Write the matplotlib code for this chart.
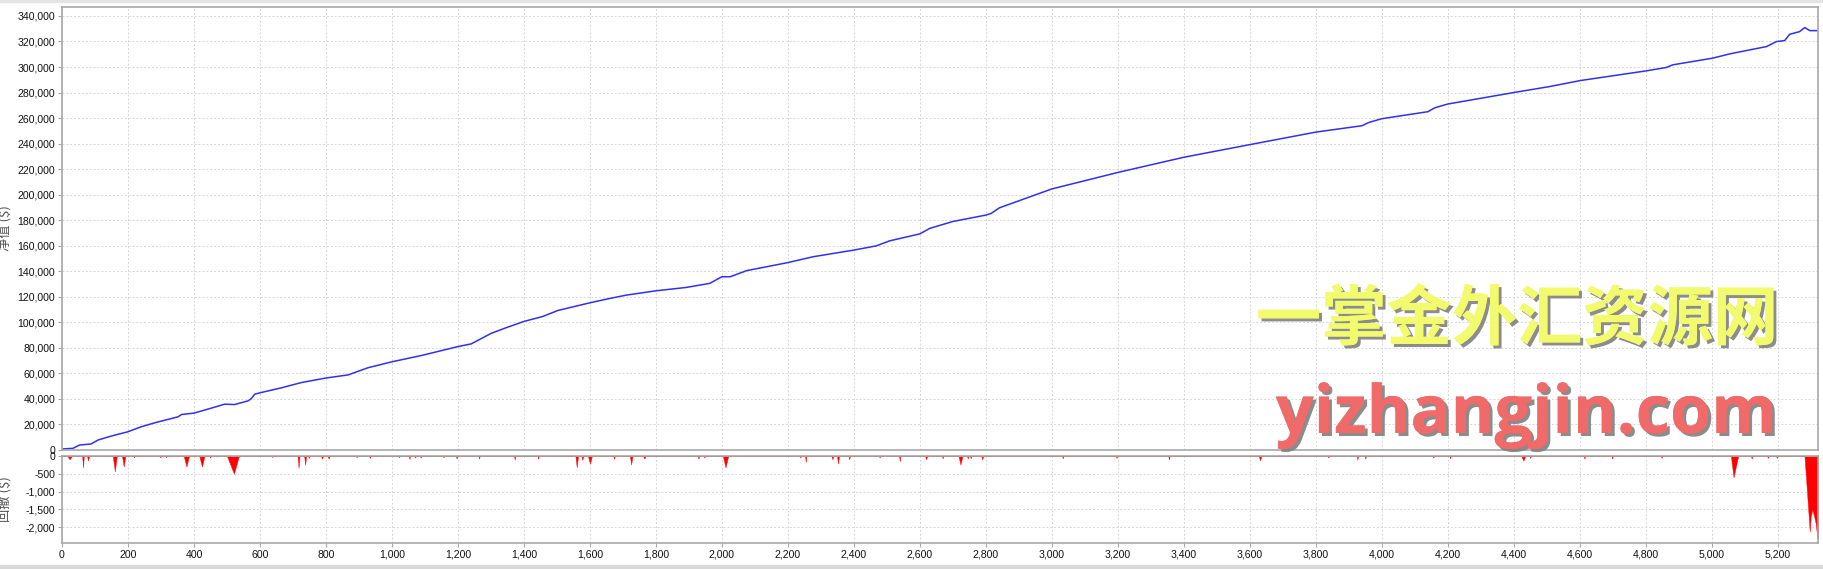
import numpy as np
import matplotlib
matplotlib.use('Agg')
import matplotlib.pyplot as plt
from matplotlib.ticker import FuncFormatter, MultipleLocator
from matplotlib.patches import Rectangle
import matplotlib.patheffects as pe

plt.rcParams['font.family'] = ['Liberation Sans', 'Noto Sans CJK SC', 'DejaVu Sans']

# %% datos leidos del grafico
# curva de equidad (numero de operacion, valor en $)
eq_x = [0, 33, 53, 88, 109, 149, 200, 240, 281, 352, 362, 400, 442, 493, 523,
        564, 574, 584, 600, 665, 725, 800, 867, 927, 1000, 1089, 1200, 1240,
        1301, 1341, 1400, 1457, 1503, 1600, 1660, 1710, 1800, 1891, 1963, 2000,
        2025, 2075, 2200, 2277, 2400, 2468, 2508, 2600, 2630, 2700, 2800, 2816,
        2841, 3000, 3200, 3400, 3600, 3800, 3940, 3960, 4000, 4140, 4160, 4200,
        4400, 4509, 4602, 4802, 4862, 4882, 5002, 5055, 5115, 5166, 5196, 5221,
        5236, 5266, 5282, 5297, 5322]
eq_y = [800, 1300, 3900, 4700, 7800, 10900, 14300, 18200, 21300, 26000, 27800,
        28900, 32000, 35900, 35600, 38500, 40300, 43700, 44800, 48700, 52800,
        56400, 58800, 64400, 69100, 74000, 81000, 83100, 91400, 95300, 100700,
        104600, 109300, 115300, 118700, 121300, 124700, 127300, 130500, 135700,
        135700, 140500, 146800, 151400, 156600, 159900, 163800, 169300, 173600,
        179000, 184000, 185300, 189700, 204500, 217400, 229300, 239200, 249000,
        254000, 256500, 259500, 265000, 268000, 271000, 280000, 284700, 289400,
        297000, 299600, 301700, 306900, 310300, 313400, 316000, 319900, 320700,
        325600, 327700, 330900, 328500, 328500]

# retrocesos: inicio, fondo, fin y profundidad ($)
dd_start = [16, 61, 76, 154, 182, 216, 296, 313, 369, 416, 447, 500, 635, 714,
            734, 746, 785, 805, 891, 931, 1019, 1051, 1068, 1085, 1154, 1194,
            1262, 1370, 1441, 1556, 1574, 1594, 1671, 1721, 1761, 1927, 1945,
            2003, 2236, 2252, 2332, 2349, 2384, 2476, 2537, 2616, 2667, 2717,
            2743, 2752, 2786, 3031, 3194, 3353, 3627, 3836, 3924, 3948, 4154,
            4205, 4423, 4448, 4612, 4696, 4846, 5058, 5119, 5168, 5195, 5281]
dd_low = [23, 64, 79, 160, 187, 218, 298, 315, 377, 424, 449, 521, 637, 717,
          737, 748, 788, 808, 893, 933, 1021, 1053, 1070, 1087, 1156, 1196,
          1264, 1372, 1443, 1560, 1577, 1600, 1673, 1725, 1765, 1929, 1947,
          2011, 2238, 2254, 2335, 2352, 2386, 2478, 2539, 2619, 2669, 2723,
          2745, 2754, 2789, 3033, 3196, 3355, 3631, 3838, 3926, 3950, 4156,
          4207, 4429, 4450, 4614, 4698, 4848, 5066, 5121, 5170, 5197, 5297]
dd_end = [30, 66, 82, 166, 192, 220, 300, 317, 385, 432, 451, 536, 639, 720,
          740, 750, 791, 811, 895, 935, 1023, 1055, 1072, 1089, 1158, 1198,
          1266, 1374, 1445, 1564, 1580, 1606, 1675, 1729, 1769, 1931, 1949,
          2019, 2240, 2256, 2338, 2355, 2388, 2480, 2541, 2622, 2671, 2729,
          2747, 2756, 2792, 3035, 3198, 3357, 3635, 3840, 3928, 3952, 4158,
          4209, 4435, 4452, 4616, 4700, 4850, 5080, 5123, 5172, 5199, 5322]
dd_depth = [-93, -324, -130, -435, -296, -37, -37, -37, -296, -296, -46, -500,
            -28, -333, -250, -55, -74, -74, -37, -55, -37, -83, -46, -46, -37,
            -74, -74, -102, -74, -315, -111, -213, -83, -241, -74, -74, -46,
            -324, -46, -167, -93, -213, -93, -46, -148, -93, -65, -241, -74,
            -65, -93, -65, -55, -102, -120, -46, -102, -74, -46, -65, -130,
            -55, -74, -74, -55, -602, -74, -55, -55, -2130]
# tramo final del ultimo retroceso
dd_tail_x = [5300, 5305, 5310, 5315, 5320, 5322]
dd_tail_y = [-1700, -1510, -1695, -1900, -2315, -2315]

yticks_eq = np.arange(0, 340001, 20000)
yticks_dd = [0, -500, -1000, -1500, -2000]

# %% se arma la serie de retrocesos
dd_x, dd_y = [0], [0]
for s, b, e, d in zip(dd_start, dd_low, dd_end, dd_depth):
    dd_x += [s, b, e]
    dd_y += [0, d, 0]
dd_x = dd_x[:-1] + dd_tail_x
dd_y = dd_y[:-1] + dd_tail_y

# %% figura
W, H = 1824, 569
fig = plt.figure(figsize=(W / 100, H / 100), dpi=100)
fig.patch.set_facecolor('white')

def caja(px_left, px_top, px_right, px_bottom):
    return [px_left / W, 1 - px_bottom / H, (px_right - px_left) / W,
            (px_bottom - px_top) / H]

ax = fig.add_axes(caja(62, 7, 1818, 450))
ax2 = fig.add_axes(caja(62, 456, 1818, 543), sharex=ax)

fmt = FuncFormatter(lambda v, _: f'{v:,.0f}')
gris = '#a8a8a8'

for a in (ax, ax2):
    a.grid(True, color='#d6d6d6', linestyle=(0, (2, 2)), linewidth=0.7)
    a.set_axisbelow(True)
    for s in a.spines.values():
        s.set_color(gris)
        s.set_linewidth(1.2)
    a.tick_params(direction='out', length=3, width=0.8, color=gris,
                  labelsize=7.6, pad=2, labelcolor='#111111')
    a.yaxis.set_major_formatter(fmt)

ax.plot(eq_x, eq_y, color='#3030f0', linewidth=1.1)
ax.set_xlim(0, 5322)
ax.set_ylim(0, 347000)
ax.set_yticks(yticks_eq)
ax.xaxis.set_major_locator(MultipleLocator(200))
ax.tick_params(axis='x', labelbottom=False, length=0)
ax.set_ylabel('净值 ($)', fontsize=9.5, color='#555555',
              family=['Noto Sans CJK SC', 'DejaVu Sans'])

ax2.fill_between(dd_x, dd_y, 0, color='#ff0000', linewidth=0.3,
                 edgecolor='#ff0000')
ax2.set_ylim(-2450, 0)
ax2.set_yticks(yticks_dd)
ax2.xaxis.set_major_formatter(fmt)
ax2.set_ylabel('回撤 ($)', fontsize=9.5, color='#555555',
               family=['Noto Sans CJK SC', 'DejaVu Sans'])

ax.yaxis.set_label_coords(-0.0285, 0.5)
ax2.yaxis.set_label_coords(-0.0285, 0.5)

# marca de agua
sombra = [pe.withSimplePatchShadow(offset=(2.2, -2.2), shadow_rgbFace='#808080',
                                   alpha=0.9), pe.Normal()]
fig.text(1517 / W, 1 - 320 / H, '一掌金外汇资源网', fontsize=47, weight='bold',
         color='#f2fa6e', ha='center', va='center',
         family=['Noto Sans CJK SC', 'DejaVu Sans'], path_effects=sombra)
fig.text(1526 / W, 1 - 433 / H, 'yizhangjin.com', fontsize=48, weight='bold',
         color='#f06a6a', ha='center', va='baseline',
         family=['Open Sans', 'DejaVu Sans'], path_effects=sombra)

# bandas grises de la ventana
fig.patches.append(Rectangle((0, 1 - 2 / H), 1, 2 / H, transform=fig.transFigure,
                             color='#e4e4e4', zorder=0))
fig.patches.append(Rectangle((0, 0), 1, 4 / H, transform=fig.transFigure,
                             color='#d8d8d8', zorder=0))

fig.savefig('out.png', dpi=100)
